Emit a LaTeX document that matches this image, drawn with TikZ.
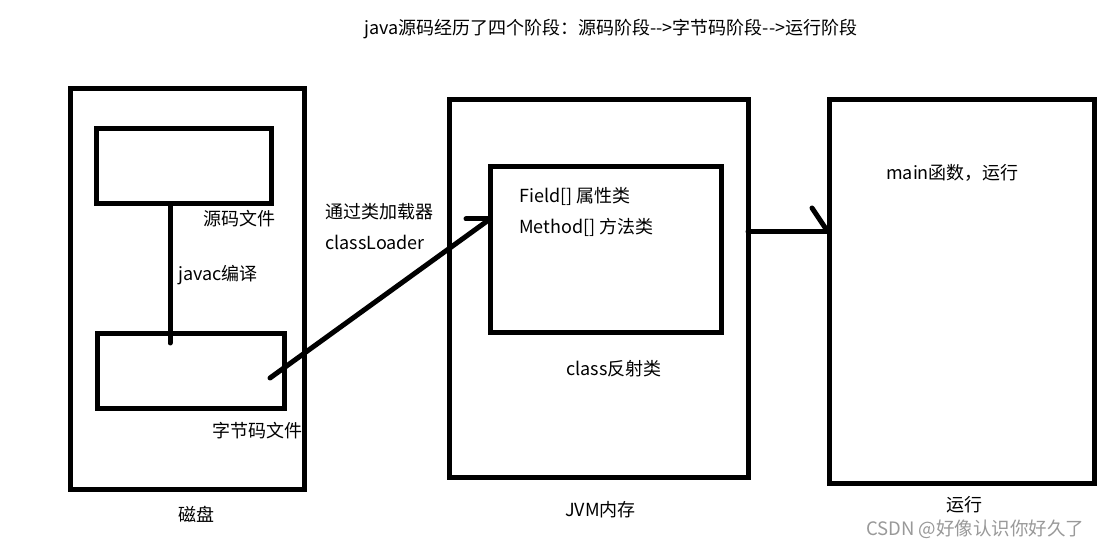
\documentclass[tikz,border=0pt]{standalone}
\usepackage{fontspec}
\setmainfont{Noto Sans CJK SC}
\begin{document}
\begin{tikzpicture}[x=1pt,y=-1pt,
  box/.style={draw=black,line width=5pt,rectangle,inner sep=0pt,fill=none},
  conn/.style={draw=black,line width=5pt,line cap=round},
  lbl/.style={inner sep=0pt,anchor=west,font=\fontsize{18}{21}\selectfont,text=black},
  wm/.style={inner sep=0pt,anchor=west,font=\fontsize{18.5}{22}\selectfont,text=black!40}]
\useasboundingbox (0,0) rectangle (1109,545);
\fill[white] (0,0) rectangle (1109,545);
% boxes
\node[box,minimum width=234pt,minimum height=400pt] (disk) at (187,289) {};
\node[box,minimum width=175pt,minimum height=75pt] (src) at (183.5,166.5) {};
\node[box,minimum width=187pt,minimum height=74pt] (byte) at (190.5,371) {};
\node[box,minimum width=299pt,minimum height=377pt] (jvm) at (598.5,288.5) {};
\node[box,minimum width=231pt,minimum height=166pt] (cls) at (605.5,250) {};
\node[box,minimum width=265pt,minimum height=383pt] (run) at (961.5,291.5) {};
% coordinates
\coordinate (c1) at (170,343);
\coordinate (c2) at (270,378);
\coordinate (c3) at (490,219);
\coordinate (h1) at (466,219);
\coordinate (c4) at (748,232);
\coordinate (c5) at (829,232);
\coordinate (h2) at (812,208);
\coordinate (h3) at (826,229);
% connectors
\draw[conn] (src.south -| c1) -- (c1);
\draw[conn] (c2) -- (c3);
\draw[conn] (h1) -- (c3);
\draw[conn] (c4) -- (c5);
\draw[conn] (h2) -- (h3);
% labels
\node[lbl] (title) at (364,29) {java源码经历了四个阶段：源码阶段-{}-{}>字节码阶段-{}-{}>运行阶段};
\node[lbl] (lsrc) at (203,219) {源码文件};
\node[lbl] (ljavac) at (178,275) {javac编译};
\node[lbl] (lbyte) at (212,431) {字节码文件};
\node[lbl] (ldisk) at (178,514) {磁盘};
\node[lbl] (lload1) at (325,212) {通过类加载器};
\node[lbl] (lload2) at (325,242) {classLoader};
\node[lbl] (lfield) at (519,196) {Field[] 属性类};
\node[lbl] (lmethod) at (519,227) {Method[] 方法类};
\node[lbl] (lcls) at (566,369) {class反射类};
\node[lbl] (ljvm) at (565,510) {JVM内存};
\node[lbl] (lmain) at (886,173) {main函数，运行};
\node[lbl] (lrun) at (946,505) {运行};
\node[wm] (wmark) at (866,529) {CSDN @好像认识你好久了};
\end{tikzpicture}
\end{document}
